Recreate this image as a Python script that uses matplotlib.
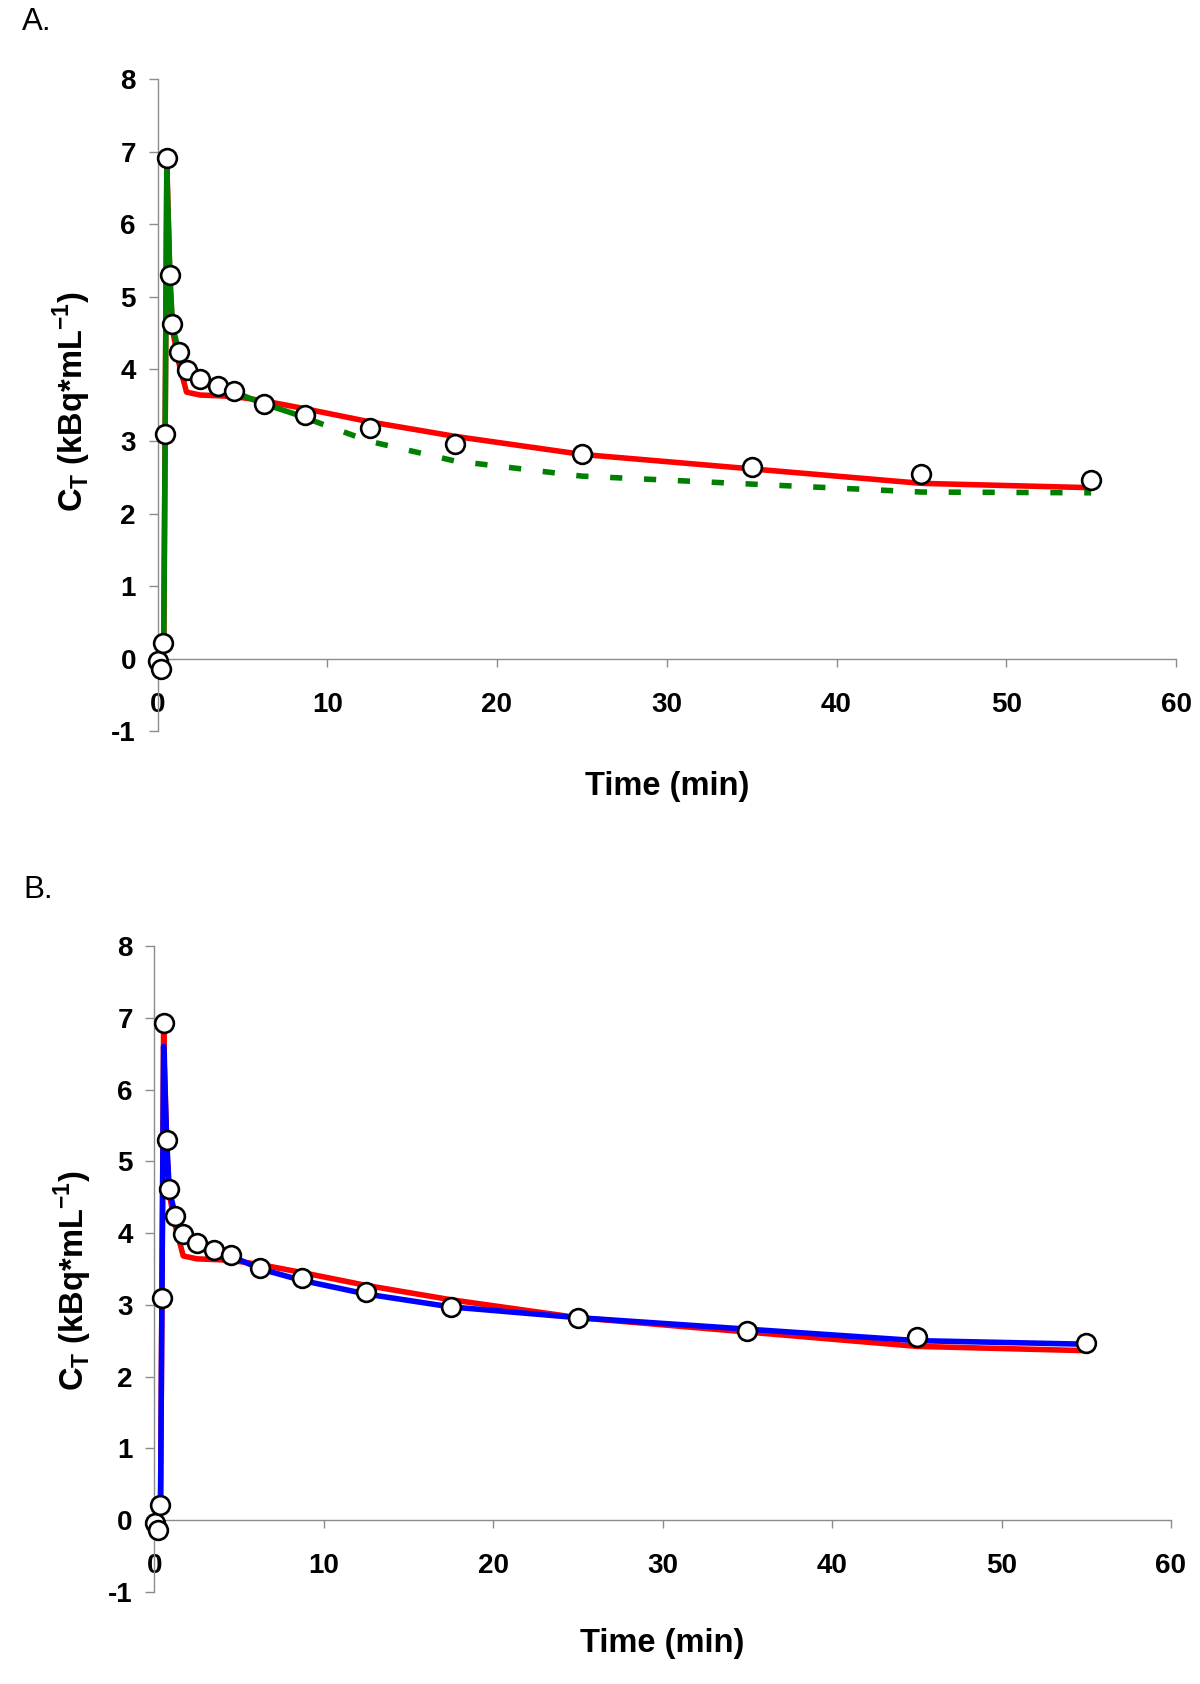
import matplotlib
matplotlib.use('Agg')
import matplotlib.pyplot as plt

plt.rcParams['font.family'] = ['Liberation Sans', 'DejaVu Sans']
plt.rcParams['axes.unicode_minus'] = False

# measured tissue activity (same points in both panels)
t_data = [0.02, 0.22, 0.35, 0.45, 0.55, 0.73, 0.88, 1.24, 1.71, 2.51, 3.54, 4.52,
          6.25, 8.7, 12.5, 17.5, 25, 35, 45, 55]
c_data = [-0.04, -0.14, 0.21, 3.1, 6.92, 5.3, 4.62, 4.24, 3.99, 3.86, 3.77, 3.69,
          3.51, 3.37, 3.18, 2.97, 2.82, 2.64, 2.55, 2.47]

# model curve (red) shown in both panels
t_red = [0.37, 0.45, 0.55, 0.73, 0.88, 1.24, 1.71, 2.51, 3.54, 4.52,
         6.25, 8.7, 12.5, 17.5, 25, 35, 45, 55]
c_red = [0.25, 3.1, 6.85, 5.2, 4.55, 4.1, 3.68, 3.64, 3.63, 3.62,
         3.56, 3.45, 3.27, 3.07, 2.82, 2.62, 2.42, 2.36]

# panel A: fit to early frames (solid green) and extrapolation (dashed green)
t_green = [0.37, 0.45, 0.55, 0.73, 0.88, 1.24, 1.71, 2.51, 3.54, 4.52, 6.25, 8.7, 9.1]
c_green = [0.25, 3.1, 6.75, 5.3, 4.6, 4.25, 3.98, 3.85, 3.76, 3.68, 3.52, 3.33, 3.29]
t_green_ext = [9.1, 12.5, 17.5, 25, 35, 45, 55]
c_green_ext = [3.29, 3.0, 2.73, 2.52, 2.41, 2.3, 2.29]

# panel B: full fit (blue)
t_blue = [0.37, 0.45, 0.55, 0.73, 0.88, 1.24, 1.71, 2.51, 3.54, 4.52,
          6.25, 8.7, 12.5, 17.5, 25, 35, 45, 55]
c_blue = [0.25, 3.1, 6.6, 5.3, 4.6, 4.25, 3.98, 3.85, 3.76, 3.68,
          3.5, 3.34, 3.15, 2.97, 2.82, 2.66, 2.5, 2.45]

x_ticks = [0, 10, 20, 30, 40, 50, 60]
y_ticks = [-1, 0, 1, 2, 3, 4, 5, 6, 7, 8]

GRAY = '#8c8c8c'
RED = '#ff0000'
GREEN = '#008000'
BLUE = '#0000ff'
LW = 4.0

fig = plt.figure(figsize=(12, 16.84), dpi=100)
axA = fig.add_axes([0.13125, 0.56591, 0.84875, 0.38700])
axB = fig.add_axes([0.12858, 0.05478, 0.84725, 0.38346])


def style_axes(ax, xlab_y, ylab_x, ylab_y):
    ax.set_xlim(0, 60)
    ax.set_ylim(-1, 8)
    ax.set_xticks(x_ticks)
    ax.set_yticks(y_ticks)
    for s in ['top', 'right']:
        ax.spines[s].set_visible(False)
    ax.spines['bottom'].set_position(('data', 0))
    for s in ['left', 'bottom']:
        ax.spines[s].set_color(GRAY)
        ax.spines[s].set_linewidth(1.0)
    ax.tick_params(axis='x', direction='out', length=6, width=1.0, color=GRAY,
                   pad=18, labelsize=20)
    ax.tick_params(axis='y', direction='out', length=6.5, width=1.0, color=GRAY,
                   pad=9, labelsize=20)
    for lab in ax.get_xticklabels() + ax.get_yticklabels():
        lab.set_fontweight('bold')
    ax.set_xlabel('Time (min)', fontsize=23.5, fontweight='bold')
    ax.xaxis.set_label_coords(0.5, xlab_y)
    ax.xaxis.label.set_va('center')
    ax.set_ylabel(r'C$_{\mathregular{T}}$ (kBq*mL$^{\mathregular{-1}}$)',
                  fontsize=23.5, fontweight='bold')
    ax.yaxis.set_label_coords(ylab_x, ylab_y)
    ax.yaxis.label.set_va('center')


def draw_points(ax):
    ax.plot(t_data, c_data, linestyle='none', marker='o', ms=13.5, mfc='white',
            mec='black', mew=1.9, clip_on=False, zorder=5)


# Panel A
axA.plot(t_red, c_red, color=RED, lw=LW, zorder=2, solid_joinstyle='round')
axA.plot(t_green, c_green, color=GREEN, lw=LW, zorder=3, solid_joinstyle='round')
axA.plot(t_green_ext, c_green_ext, color=GREEN, lw=LW, zorder=3,
         linestyle=(0, (2.2, 3.9)))
draw_points(axA)
style_axes(axA, -0.0855, -0.0842, 0.505)

# Panel B
axB.plot(t_red, c_red, color=RED, lw=LW, zorder=2, solid_joinstyle='round')
axB.plot(t_blue, c_blue, color=BLUE, lw=LW, zorder=3, solid_joinstyle='round')
draw_points(axB)
style_axes(axB, -0.0803, -0.080, 0.482)

fig.text(21.7 / 1200, 1 - 22.5 / 1684, 'A.', fontsize=22.5, ha='left', va='center')
fig.text(23.3 / 1200, 1 - 890 / 1684, 'B.', fontsize=22.5, ha='left', va='center')

fig.savefig('out.png', dpi=100, facecolor='white')
